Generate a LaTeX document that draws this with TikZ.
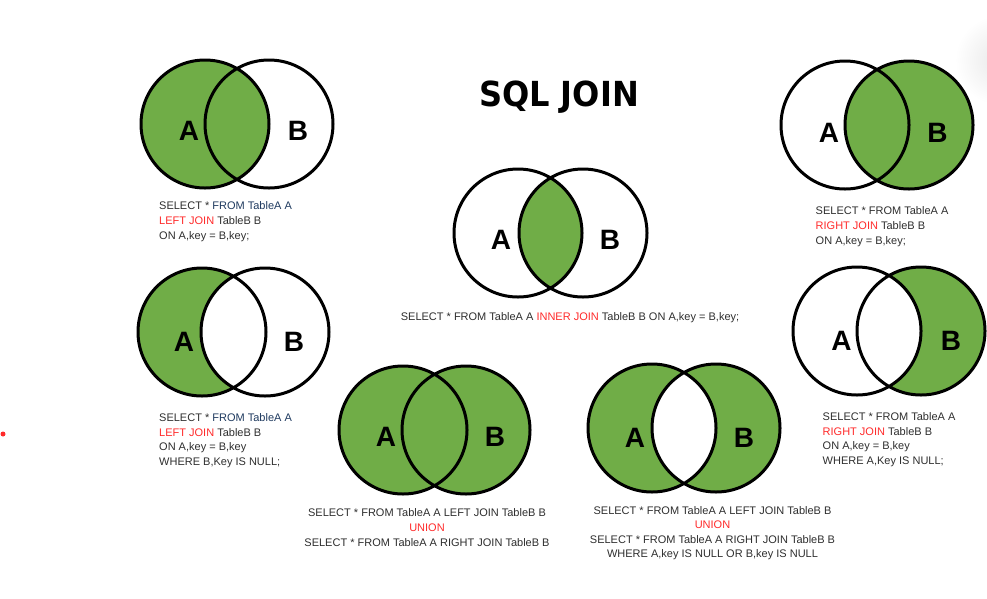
\documentclass[tikz,border=0pt]{standalone}
\usepackage{fontspec}
\setmainfont{Liberation Sans}
\newfontfamily\titlefont{DejaVu Sans}
\definecolor{vgreen}{HTML}{70AD47}
\definecolor{sqlred}{HTML}{FF2A2A}
\definecolor{sqltxt}{HTML}{2E2E2E}
\definecolor{sqlnavy}{HTML}{1F3A5F}
\tikzset{
  venn/.style={draw=black, line width=3pt},
  lbl/.style={font=\fontsize{28}{30}\selectfont\bfseries, text=black, inner sep=0pt, anchor=base},
  sql/.style={font=\fontsize{11}{15}\selectfont, text=sqltxt, inner sep=0pt, anchor=base west, align=left},
  sqlm/.style={font=\fontsize{11}{14.7}\selectfont, text=sqltxt, inner sep=0pt, anchor=base west, align=left},
  sqlc/.style={font=\fontsize{11}{15}\selectfont, text=sqltxt, inner sep=0pt, anchor=base, align=center},
  sqlcc/.style={font=\fontsize{11}{14.4}\selectfont, text=sqltxt, inner sep=0pt, anchor=base, align=center},
}
\newcommand\rd[1]{\textcolor{sqlred}{#1}}
\newcommand\nv[1]{\textcolor{sqlnavy}{#1}}
\begin{document}
\begin{tikzpicture}[x=1pt,y=-1pt]
\useasboundingbox (0,0) rectangle (987,598);
% faint shadow at top right
\begin{scope}
\clip (0,0) rectangle (987,598);
\shade[inner color=black!9, outer color=white] (1000,60) circle (45);
\end{scope}
% red dot
\fill[sqlred] (3,434) circle (2.5);
% title
\node[inner sep=0pt, anchor=base] (title) at (559,106.5) {\scalebox{0.93}[1]{\titlefont\fontsize{34.5}{36}\selectfont\bfseries SQL JOIN}};

% ---------- LEFT JOIN (top left)
\coordinate (tlA) at (205,124); \coordinate (tlB) at (269,124);
\fill[vgreen] (tlA) circle (64);
\draw[venn] (tlA) circle (64) (tlB) circle (64);
\node[lbl] (tlLa) at (189,140) {A};
\node[lbl] (tlLb) at (298,140) {B};
\node[sql] (tlT) at (159,239) {SELECT * \nv{FROM TableA A}\\\rd{LEFT JOIN} TableB B\\ON A,key = B,key;};

% ---------- INNER JOIN (top centre)
\coordinate (tcA) at (518,233); \coordinate (tcB) at (583,233);
\begin{scope}
\clip (tcA) circle (64);
\fill[vgreen] (tcB) circle (64);
\end{scope}
\draw[venn] (tcA) circle (64) (tcB) circle (64);
\node[lbl] (tcLa) at (501,249) {A};
\node[lbl] (tcLb) at (610,249) {B};
\node[sqlc] (tcT) at (570,320) {SELECT * FROM TableA A \rd{INNER JOIN} TableB B ON A,key = B,key;};

% ---------- RIGHT JOIN (top right)
\coordinate (trA) at (845,125); \coordinate (trB) at (909,125);
\fill[vgreen] (trB) circle (64);
\draw[venn] (trA) circle (64) (trB) circle (64);
\node[lbl] (trLa) at (829,142.5) {A};
\node[lbl] (trLb) at (937.5,142.5) {B};
\node[sql] (trT) at (815.5,244.5) {SELECT * FROM TableA A\\\rd{RIGHT JOIN} TableB B\\ON A,key = B,key;};

% ---------- LEFT JOIN, B IS NULL (middle left)
\coordinate (mlA) at (202,332); \coordinate (mlB) at (265,332);
\fill[vgreen] (mlA) circle (64);
\begin{scope}
\clip (mlA) circle (64);
\fill[white] (mlB) circle (64);
\end{scope}
\draw[venn] (mlA) circle (64) (mlB) circle (64);
\node[lbl] (mlLa) at (184,351) {A};
\node[lbl] (mlLb) at (294,351) {B};
\node[sqlm] (mlT) at (159,465.6) {SELECT * \nv{FROM TableA A}\\\rd{LEFT JOIN} TableB B\\ON A,key = B,key\\WHERE B,Key IS NULL;};

% ---------- RIGHT JOIN, A IS NULL (middle right)
\coordinate (mrA) at (857,331); \coordinate (mrB) at (921,331);
\fill[vgreen] (mrB) circle (64);
\begin{scope}
\clip (mrB) circle (64);
\fill[white] (mrA) circle (64);
\end{scope}
\draw[venn] (mrA) circle (64) (mrB) circle (64);
\node[lbl] (mrLa) at (841.5,350) {A};
\node[lbl] (mrLb) at (951,350) {B};
\node[sqlm] (mrT) at (822.5,464.6) {SELECT * FROM TableA A\\\rd{RIGHT JOIN} TableB B\\ON A,key = B,key\\WHERE A,Key IS NULL;};

% ---------- FULL OUTER (bottom left)
\coordinate (blA) at (403,430); \coordinate (blB) at (466,430);
\fill[vgreen] (blA) circle (64) (blB) circle (64);
\draw[venn] (blA) circle (64) (blB) circle (64);
\node[lbl] (blLa) at (386,446.5) {A};
\node[lbl] (blLb) at (495,446.5) {B};
\node[sqlc] (blT) at (427,546.5) {SELECT * FROM TableA A LEFT JOIN TableB B\\\rd{UNION}\\SELECT * FROM TableA A RIGHT JOIN TableB B};

% ---------- FULL OUTER EXCLUDING (bottom right)
\coordinate (brA) at (652,428); \coordinate (brB) at (716,428);
\fill[vgreen] (brA) circle (64) (brB) circle (64);
\begin{scope}
\clip (brA) circle (64);
\fill[white] (brB) circle (64);
\end{scope}
\draw[venn] (brA) circle (64) (brB) circle (64);
\node[lbl] (brLa) at (635,447) {A};
\node[lbl] (brLb) at (744,447) {B};
\node[sqlcc] (brT) at (712.5,557.5) {SELECT * FROM TableA A LEFT JOIN TableB B\\\rd{UNION}\\SELECT * FROM TableA A RIGHT JOIN TableB B\\WHERE A,key IS NULL OR B,key IS NULL};
\end{tikzpicture}
\end{document}
